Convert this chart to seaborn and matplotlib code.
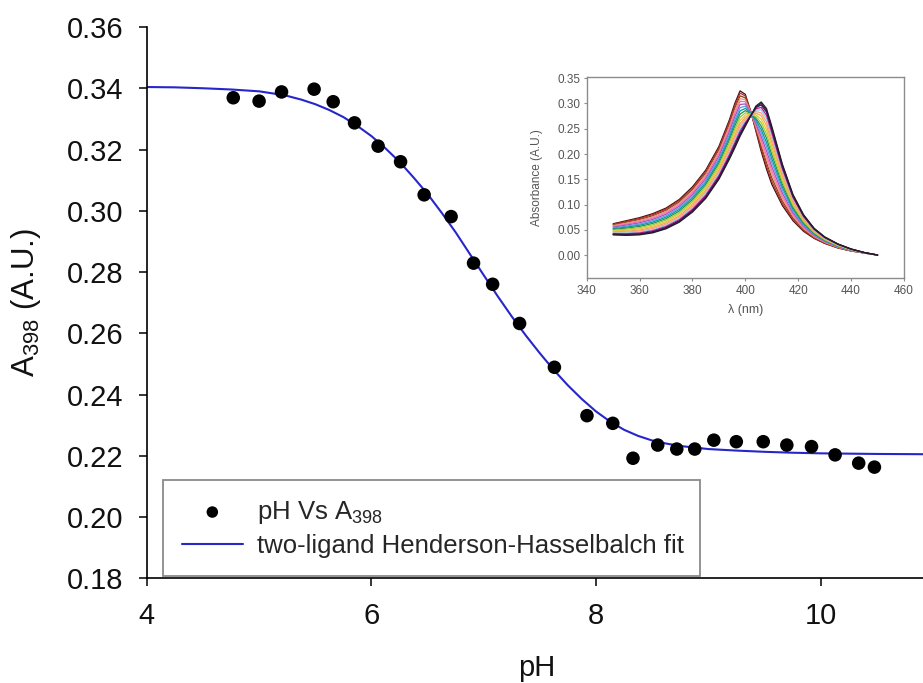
import matplotlib
matplotlib.use("Agg")
import matplotlib.pyplot as plt
import seaborn as sns
import pandas as pd
import numpy as np

# ---------------- data ----------------
ph = [4.77, 5.00, 5.20, 5.49, 5.66, 5.85, 6.06, 6.26, 6.47, 6.71, 6.91, 7.08,
      7.32, 7.63, 7.92, 8.15, 8.33, 8.55, 8.72, 8.88, 9.05, 9.25, 9.49, 9.70,
      9.92, 10.13, 10.34, 10.48]
a398 = [0.3369, 0.3358, 0.3388, 0.3397, 0.3356, 0.3287, 0.3211, 0.3160, 0.3052,
        0.2981, 0.2829, 0.2760, 0.2632, 0.2489, 0.2331, 0.2306, 0.2192, 0.2235,
        0.2222, 0.2222, 0.2251, 0.2246, 0.2246, 0.2235, 0.2230, 0.2203, 0.2176,
        0.2163]

fit_ph = [4.0, 4.25, 4.5, 4.75, 5.0, 5.125, 5.25, 5.375, 5.5, 5.625, 5.75, 5.875,
          6.0, 6.125, 6.25, 6.375, 6.5, 6.625, 6.75, 6.875, 7.0, 7.125, 7.25,
          7.375, 7.5, 7.625, 7.75, 7.875, 8.0, 8.125, 8.25, 8.375, 8.5, 8.625,
          8.75, 8.875, 9.0, 9.25, 9.5, 9.75, 10.0, 10.5, 11.0]
fit_a = [0.3404, 0.3403, 0.3400, 0.3396, 0.3390, 0.3383, 0.3375, 0.3363, 0.3348,
         0.3329, 0.3306, 0.3277, 0.3244, 0.3204, 0.3160, 0.3109, 0.3055, 0.2994,
         0.2930, 0.2860, 0.2790, 0.2721, 0.2655, 0.2593, 0.2535, 0.2480, 0.2430,
         0.2385, 0.2345, 0.2312, 0.2285, 0.2265, 0.2250, 0.2240, 0.2232, 0.2227,
         0.2222, 0.2217, 0.2213, 0.2210, 0.2208, 0.2206, 0.2205]

wavelength_nm = [350, 355, 360, 365, 370, 375, 380, 385, 390, 394, 396, 398, 400,
                 402, 404, 406, 408, 410, 414, 418, 422, 426, 430, 435, 440, 445, 450]
acid_abs = [0.062, 0.068, 0.074, 0.082, 0.093, 0.110, 0.135, 0.168, 0.215, 0.268,
            0.300, 0.325, 0.318, 0.285, 0.245, 0.205, 0.170, 0.140, 0.098, 0.068,
            0.047, 0.033, 0.023, 0.014, 0.008, 0.004, 0.000]
base_abs = [0.040, 0.039, 0.040, 0.044, 0.052, 0.065, 0.085, 0.112, 0.150, 0.190,
            0.212, 0.235, 0.255, 0.275, 0.295, 0.303, 0.290, 0.255, 0.180, 0.120,
            0.080, 0.053, 0.036, 0.022, 0.012, 0.005, 0.000]
acid_fraction = [1.0, 0.95, 0.89, 0.83, 0.77, 0.70, 0.63, 0.56, 0.49, 0.42, 0.35,
                 0.28, 0.22, 0.16, 0.11, 0.06, 0.03, 0.0]
spectrum_colors = ['#3a1212', '#c0282d', '#8b4513', '#e9967a', '#ff69b4', '#9b59b6',
                   '#6495ed', '#00a0a0', '#2e8b57', '#9acd32', '#e8c830', '#f4a460',
                   '#ffa07a', '#87ceeb', '#c71585', '#1a1a6e', '#4b1050', '#202020']

main_yticks = [0.18, 0.20, 0.22, 0.24, 0.26, 0.28, 0.30, 0.32, 0.34, 0.36]
main_xticks = [4, 6, 8, 10]
inset_yticks = [0.00, 0.05, 0.10, 0.15, 0.20, 0.25, 0.30, 0.35]
inset_xticks = [340, 360, 380, 400, 420, 440, 460]

# ---------------- style ----------------
sns.set_style("ticks")
plt.rcParams['font.family'] = ['Liberation Sans', 'DejaVu Sans']
plt.rcParams['mathtext.fontset'] = 'custom'
plt.rcParams['mathtext.rm'] = 'Liberation Sans'
plt.rcParams['mathtext.it'] = 'Liberation Sans:italic'
plt.rcParams['mathtext.bf'] = 'Liberation Sans:bold'

W, H = 923, 683
fig = plt.figure(figsize=(W / 100, H / 100), dpi=100)


def px(x0, y0, x1, y1):
    return [x0 / W, 1 - y1 / H, (x1 - x0) / W, (y1 - y0) / H]


# ---------------- main axes ----------------
ax = fig.add_axes(px(146.8, 27, 932.8, 578.3))
pts = pd.DataFrame({'pH': ph, 'A398': a398})
fit = pd.DataFrame({'pH': fit_ph, 'A': fit_a})

sns.scatterplot(data=pts, x='pH', y='A398', ax=ax, color='black', s=95,
                edgecolor='none', linewidth=0, label='pH Vs A$_{398}$', zorder=3)
sns.lineplot(data=fit, x='pH', y='A', ax=ax, color='#2626c9', lw=1.5,
             label='two-ligand Henderson-Hasselbalch fit', zorder=2)

ax.set_xlim(4, 11)
ax.set_ylim(0.18, 0.36)
ax.set_xticks(main_xticks)
ax.set_yticks(main_yticks)
ax.set_yticklabels([f'{v:.2f}' for v in main_yticks])
ax.set_xticklabels([str(v) for v in main_xticks])
for s in ['top', 'right']:
    ax.spines[s].set_visible(False)
for s in ['left', 'bottom']:
    ax.spines[s].set_color('black')
    ax.spines[s].set_linewidth(1.2)
ax.tick_params(direction='out', length=5.8, width=1.1, labelsize=21, pad=11,
               color='black', labelcolor='#111111')
ax.set_xlabel('pH', fontsize=21, color='#111111')
ax.set_ylabel('A$_{398}$ (A.U.)', fontsize=22.5, color='#111111')
ax.xaxis.set_label_coords((537 - 146.8) / 786, (578.3 - 654) / 551.3)
ax.yaxis.set_label_coords((43 - 146.8) / 786, 0.5)

handles, labels = ax.get_legend_handles_labels()
leg = ax.legend(handles, labels, loc='lower left',
                bbox_to_anchor=((163 - 146.8) / 786, (578.3 - 576) / 551.3,
                                537 / 786, 0.18),
                mode='expand', borderaxespad=0, fontsize=18.5, frameon=True,
                fancybox=False, framealpha=1, edgecolor='#8a8a8a',
                handlelength=2.4, handletextpad=0.55, labelspacing=0.3,
                borderpad=0.72, markerscale=0.85)
leg.get_frame().set_linewidth(1.3)

# ---------------- inset ----------------
rows = []
for i, f in enumerate(acid_fraction):
    for w, a, b in zip(wavelength_nm, acid_abs, base_abs):
        rows.append({'wl': w, 'abs': f * a + (1 - f) * b, 'spec': i})
spec = pd.DataFrame(rows)

ins = fig.add_axes(px(586.7, 76.7, 904, 278.3))
sns.lineplot(data=spec, x='wl', y='abs', hue='spec', palette=spectrum_colors,
             ax=ins, legend=False, lw=0.9, sort=False)
ins.set_xlim(340, 460)
ins.set_ylim(-0.046, 0.353)
ins.set_xticks(inset_xticks)
ins.set_yticks(inset_yticks)
ins.set_yticklabels([f'{v:.2f}' for v in inset_yticks])
for s in ins.spines.values():
    s.set_color('#8c8c8c')
    s.set_linewidth(1.0)
ins.tick_params(direction='out', length=2.5, width=0.8, color='#8c8c8c',
                labelcolor='#555555', labelsize=8.5, pad=2)
ins.set_xlabel('λ (nm)', fontsize=9, color='#555555')
ins.set_ylabel('Absorbance (A.U.)', fontsize=8.5, color='#555555')
ins.xaxis.set_label_coords(0.5, (278.3 - 304) / 201.6)
ins.yaxis.set_label_coords((543 - 586.7) / 317.3, 0.5)

fig.savefig('out.png', dpi=100)
